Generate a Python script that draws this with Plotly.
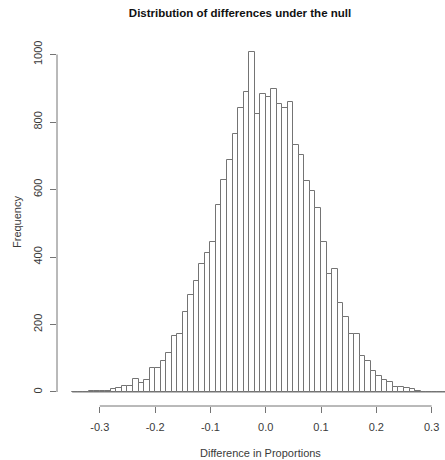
import plotly.graph_objects as go

# Histogram data (bins of width 0.01 starting at -0.35)
bin_start = -0.35
bin_width = 0.01
counts = [
    0, 0, 0, 2, 3, 3, 4, 8, 13, 18,
    19, 38, 28, 37, 72, 71, 92, 117, 167, 171,
    237, 287, 330, 379, 413, 445, 554, 628, 687, 765,
    841, 888, 1007, 824, 883, 875, 899, 853, 841, 858,
    733, 703, 625, 596, 546, 445, 350, 365, 263, 221,
    171, 171, 108, 92, 62, 46, 35, 29, 14, 14,
    12, 8, 3, 0, 0, 0, 0, 0, 0, 0,
]
x_ticks = [-0.3, -0.2, -0.1, 0.0, 0.1, 0.2, 0.3]
x_ticklabels = ["-0.3", "-0.2", "-0.1", "0.0", "0.1", "0.2", "0.3"]
y_ticks = [0, 200, 400, 600, 800, 1000]
y_ticklabels = ["0", "200", "400", "600", "800", "1000"]

title_text = "Distribution of differences under the null"
x_title = "Difference in Proportions"
y_title = "Frequency"

centers = [bin_start + bin_width * (i + 0.5) for i in range(len(counts))]
edge_lo = bin_start
edge_hi = bin_start + bin_width * len(counts)

line_col = "#747474"
text_col = "#3a3a3a"
font_family = "Liberation Sans, Arial, sans-serif"

fig = go.Figure()
fig.add_trace(go.Bar(
    x=centers, y=counts, width=bin_width,
    marker=dict(color="white", line=dict(color=line_col, width=1)),
    hoverinfo="x+y",
))

# baseline under bars (R draws zero-height rectangles as lines)
fig.add_shape(type="line", xref="x", yref="y", x0=edge_lo, x1=edge_hi, y0=0, y1=0,
              line=dict(color=line_col, width=1))
# axis lines spanning first to last tick, like R
fig.add_shape(type="line", xref="x", yref="paper", x0=x_ticks[0], x1=x_ticks[-1], y0=0, y1=0,
              line=dict(color=line_col, width=1))
fig.add_shape(type="line", xref="paper", yref="y", x0=0, x1=0, y0=y_ticks[0], y1=y_ticks[-1],
              line=dict(color=line_col, width=1))

fig.update_layout(
    width=445, height=460,
    margin=dict(l=57, r=0, t=38, b=54, autoexpand=False),
    plot_bgcolor="white", paper_bgcolor="white",
    showlegend=False, bargap=0,
    font=dict(family=font_family, size=11, color=text_col),
    title=dict(text="<b>" + title_text + "</b>", x=240 / 445, y=1 - 13 / 460,
               xref="container", yref="container", xanchor="center", yanchor="middle",
               font=dict(size=11.5, color="#111111", family=font_family)),
    xaxis=dict(range=[-0.3774, 0.3242], tickvals=x_ticks, ticktext=x_ticklabels,
               showgrid=False, zeroline=False, showline=False,
               ticks="outside", ticklen=6, tickcolor=line_col, tickwidth=1,
               ticklabelstandoff=5, automargin=False),
    yaxis=dict(range=[-41.5, 1048.9], tickvals=y_ticks, ticktext=y_ticklabels,
               showgrid=False, zeroline=False, showline=False,
               ticks="outside", ticklen=6, tickcolor=line_col, tickwidth=1,
               tickangle=-90, ticklabelstandoff=4, automargin=False),
    annotations=[
        dict(text=x_title, xref="paper", yref="paper", x=(260 - 57) / 388, y=(406 - 453) / 368,
             showarrow=False, xanchor="center", yanchor="middle",
             font=dict(size=11, color=text_col)),
        dict(text=y_title, xref="paper", yref="paper", x=(17 - 57) / 388, y=(406 - 222) / 368,
             showarrow=False, xanchor="center", yanchor="middle", textangle=-90,
             font=dict(size=11, color=text_col)),
    ],
)

fig.write_html("out.html", config={"displayModeBar": False},
               post_script="document.body.style.margin='0';document.body.style.overflow='hidden';")
